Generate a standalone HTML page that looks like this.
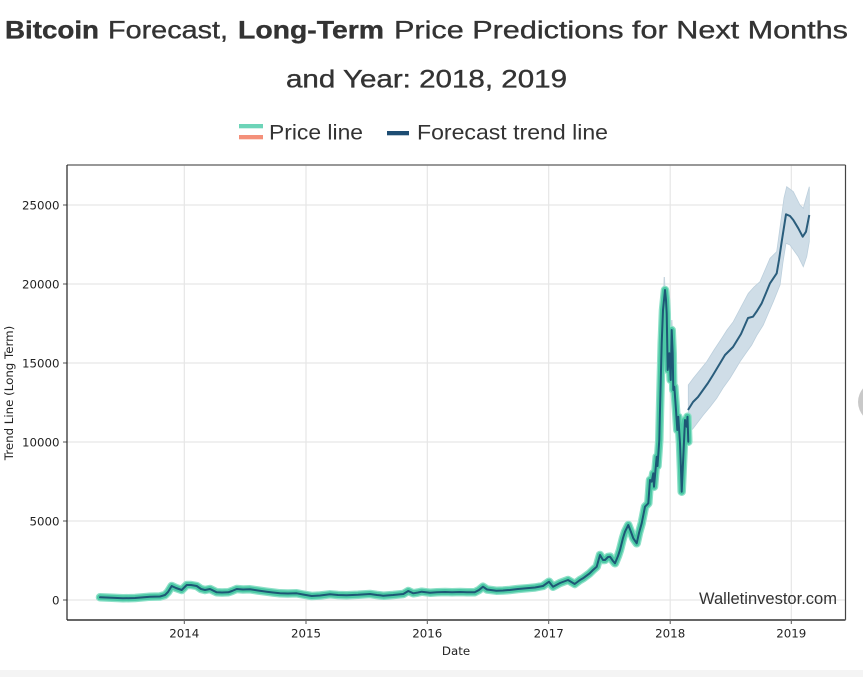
<!DOCTYPE html>
<html><head><meta charset="utf-8"><style>
html,body{margin:0;padding:0;background:#fff;width:863px;height:677px;overflow:hidden}
svg{display:block}
</style></head><body>
<svg width="863" height="677" viewBox="0 0 863 677" xmlns="http://www.w3.org/2000/svg">
<defs>
<polyline id="pl" points="100,597.3 112,597.8 123,598.3 135,598 150,596.7 160,596.5 165,595 168,592 171.7,586 176,588 181.7,590 186.7,585 191,585 196.7,586 201,589 205,590 210,589 216.7,592.3 222,592.5 228.3,592.3 232,591 236.7,589 243,589.5 250,589.3 258,590.5 266.7,591.7 273,592.5 280,593.3 288,593.5 296.7,593.3 303,594.5 311.7,596 320,595.5 330,594.3 338,595 346.7,595.3 358,594.8 370,594 377,595 383.3,595.7 393,595 403.3,594 408.3,591 413.3,593.3 418,592.5 421.7,591.7 430,592.7 437,592.2 445,592 452,592.3 460,592 467,592.3 474.7,592.3 479,590 483,586.7 487,589.5 496.3,590.7 503,590.5 509.7,590 518,589 526.3,588.3 535,587.5 543,586 549,581.7 553,586.7 560,583 568,580 574.7,584 580,580 583,578.3 589.7,573.3 593,570 596.7,566.7 600,555 603,560 605,560 608,557 610,556.7 613,561 615,563.3 618,556 620,550 623,538 625,531.7 628.3,525 631,532 633.3,538.3 636.7,543.3 639,533 641.7,523.3 645,506.7 648.3,503.3 650,480 651.7,481.7 653.3,473.3 654,486.7 656.7,456.7 657.5,466 659.3,440 660,410 661.7,343.3 663,310 665,290 666,300 666.7,313.3 667.7,370 669.3,353.3 670.7,380 671.7,330 672.7,353.3 673.3,390 674.3,386.7 676,410 677.3,430 678.3,416.7 680,443.3 681,470 681.7,491.7 683.3,456.7 685,420 686.7,426.7 687.5,416.7 688.3,441.7"/>
</defs>
<rect x="0" y="0" width="863" height="677" fill="#fff"/>
<rect x="0" y="670" width="863" height="7" fill="#f4f4f4"/>
<circle cx="879" cy="402" r="21" fill="#c9c9c9"/>

<!-- Title -->
<g font-family="'Liberation Sans', sans-serif" font-size="25" fill="#333" stroke="#333" stroke-width="0.35">
<text x="5" y="38.5" font-weight="bold" textLength="94" lengthAdjust="spacingAndGlyphs">Bitcoin</text>
<text x="108" y="38.5" textLength="120" lengthAdjust="spacingAndGlyphs">Forecast,</text>
<text x="238" y="38.5" font-weight="bold" textLength="146" lengthAdjust="spacingAndGlyphs">Long-Term</text>
<text x="394" y="38.5" textLength="454" lengthAdjust="spacingAndGlyphs">Price Predictions for Next Months</text>
<text x="286" y="87.3" textLength="281" lengthAdjust="spacingAndGlyphs">and Year: 2018, 2019</text>
</g>

<!-- Legend -->
<rect x="239" y="124" width="24" height="4.3" fill="#6dd4b8"/>
<rect x="239" y="135" width="24" height="4.3" fill="#f4907a"/>
<text x="269" y="139.3" font-family="'Liberation Sans', sans-serif" font-size="21" fill="#333" textLength="94" lengthAdjust="spacingAndGlyphs">Price line</text>
<rect x="387" y="131" width="22" height="4.3" fill="#1e4d73"/>
<text x="417" y="139.3" font-family="'Liberation Sans', sans-serif" font-size="21" fill="#333" textLength="191" lengthAdjust="spacingAndGlyphs">Forecast trend line</text>

<!-- Grid -->
<g stroke="#e6e6e6" stroke-width="1.2">
<line x1="67" y1="600" x2="845" y2="600"/>
<line x1="67" y1="521" x2="845" y2="521"/>
<line x1="67" y1="442" x2="845" y2="442"/>
<line x1="67" y1="363" x2="845" y2="363"/>
<line x1="67" y1="284" x2="845" y2="284"/>
<line x1="67" y1="205" x2="845" y2="205"/>
<line x1="184.3" y1="165" x2="184.3" y2="620"/>
<line x1="306" y1="165" x2="306" y2="620"/>
<line x1="427.3" y1="165" x2="427.3" y2="620"/>
<line x1="548.7" y1="165" x2="548.7" y2="620"/>
<line x1="670.2" y1="165" x2="670.2" y2="620"/>
<line x1="791.3" y1="165" x2="791.3" y2="620"/>
</g>

<!-- Ticks -->
<g stroke="#555" stroke-width="1">
<line x1="63" y1="600" x2="67" y2="600"/>
<line x1="63" y1="521" x2="67" y2="521"/>
<line x1="63" y1="442" x2="67" y2="442"/>
<line x1="63" y1="363" x2="67" y2="363"/>
<line x1="63" y1="284" x2="67" y2="284"/>
<line x1="63" y1="205" x2="67" y2="205"/>
<line x1="184.3" y1="620" x2="184.3" y2="624"/>
<line x1="306" y1="620" x2="306" y2="624"/>
<line x1="427.3" y1="620" x2="427.3" y2="624"/>
<line x1="548.7" y1="620" x2="548.7" y2="624"/>
<line x1="670.2" y1="620" x2="670.2" y2="624"/>
<line x1="791.3" y1="620" x2="791.3" y2="624"/>
</g>

<!-- Forecast band -->
<polygon fill="#cfdde7" stroke="#bccfdc" stroke-width="0.8" points="688.3,385 693.3,378.3 700,370 706.7,361.7 714,350 721.7,338.3 727,330 733.3,321.7 741,307 748.3,293.3 754,287 760,281.7 765,270 770,258.3 776.7,251.7 779,235 781.7,215 784,198 786.7,186.7 793.3,191.7 800,205 803.3,208.3 806,198.3 809.3,186.7 809.3,241.7 806.7,256.7 803.3,266.7 798.3,256.7 790,245 786,243.3 783,262 780,285 773.3,301.7 768,314 763.3,325 757,335 751.7,345 746,353 740,361.7 735,370 730,378.3 723,388 716.7,398.3 710,407 703.3,415 698,422 693.3,428.3 688.3,433.3"/>
<polyline fill="none" stroke="#c5d4de" stroke-width="1.2" points="663.5,300 664.3,277 665,292"/>
<polyline fill="none" stroke="#c5d4de" stroke-width="1.2" points="671,335 671.8,320 672.5,335"/>

<!-- Price line -->
<g fill="none" stroke-linejoin="round" stroke-linecap="round">
<use href="#pl" stroke="#8ee0c8" stroke-width="8.5"/>
<use href="#pl" stroke="#4cc9a5" stroke-width="6"/>
<use href="#pl" stroke="#1d5775" stroke-width="2"/>
</g>

<!-- Forecast line -->
<polyline fill="none" stroke="#2a5d7c" stroke-width="2" stroke-linejoin="round" points="688,410 693,402 698,397 703,390 708,383 713,375 719,365 725,355 733,347 741,334 748,318 753,316.7 757,311 761.7,303.3 766,293 770,283.3 776.7,273.3 779,260 781.7,241.7 786,214.3 790,216 793.3,220 798.3,228.3 802.7,236.7 806,231.7 809.3,215"/>

<!-- Frame -->
<line x1="67" y1="165" x2="845.5" y2="165" stroke="#777" stroke-width="1.5"/>
<line x1="845.5" y1="165" x2="845.5" y2="620" stroke="#444" stroke-width="1.2"/>
<line x1="67" y1="620" x2="845.5" y2="620" stroke="#666" stroke-width="2"/>
<line x1="67" y1="165" x2="67" y2="620" stroke="#222" stroke-width="1.2"/>

<!-- Axis labels -->
<g font-family="'DejaVu Sans', sans-serif" font-size="11.8" fill="#222">
<text x="59.5" y="604.3" text-anchor="end">0</text>
<text x="59.5" y="525.3" text-anchor="end">5000</text>
<text x="59.5" y="446.3" text-anchor="end">10000</text>
<text x="59.5" y="367.3" text-anchor="end">15000</text>
<text x="59.5" y="288.3" text-anchor="end">20000</text>
<text x="59.5" y="209.3" text-anchor="end">25000</text>
<text x="184.3" y="637.5" text-anchor="middle">2014</text>
<text x="306" y="637.5" text-anchor="middle">2015</text>
<text x="427.3" y="637.5" text-anchor="middle">2016</text>
<text x="548.7" y="637.5" text-anchor="middle">2017</text>
<text x="670.2" y="637.5" text-anchor="middle">2018</text>
<text x="791.3" y="637.5" text-anchor="middle">2019</text>
<text x="456" y="655" text-anchor="middle">Date</text>
<text transform="translate(13,393) rotate(-90)" text-anchor="middle">Trend Line (Long Term)</text>
</g>

<text x="699" y="604" font-family="'Liberation Sans', sans-serif" font-size="16.3" fill="#333" textLength="138" lengthAdjust="spacingAndGlyphs">Walletinvestor.com</text>
</svg>
</body></html>
